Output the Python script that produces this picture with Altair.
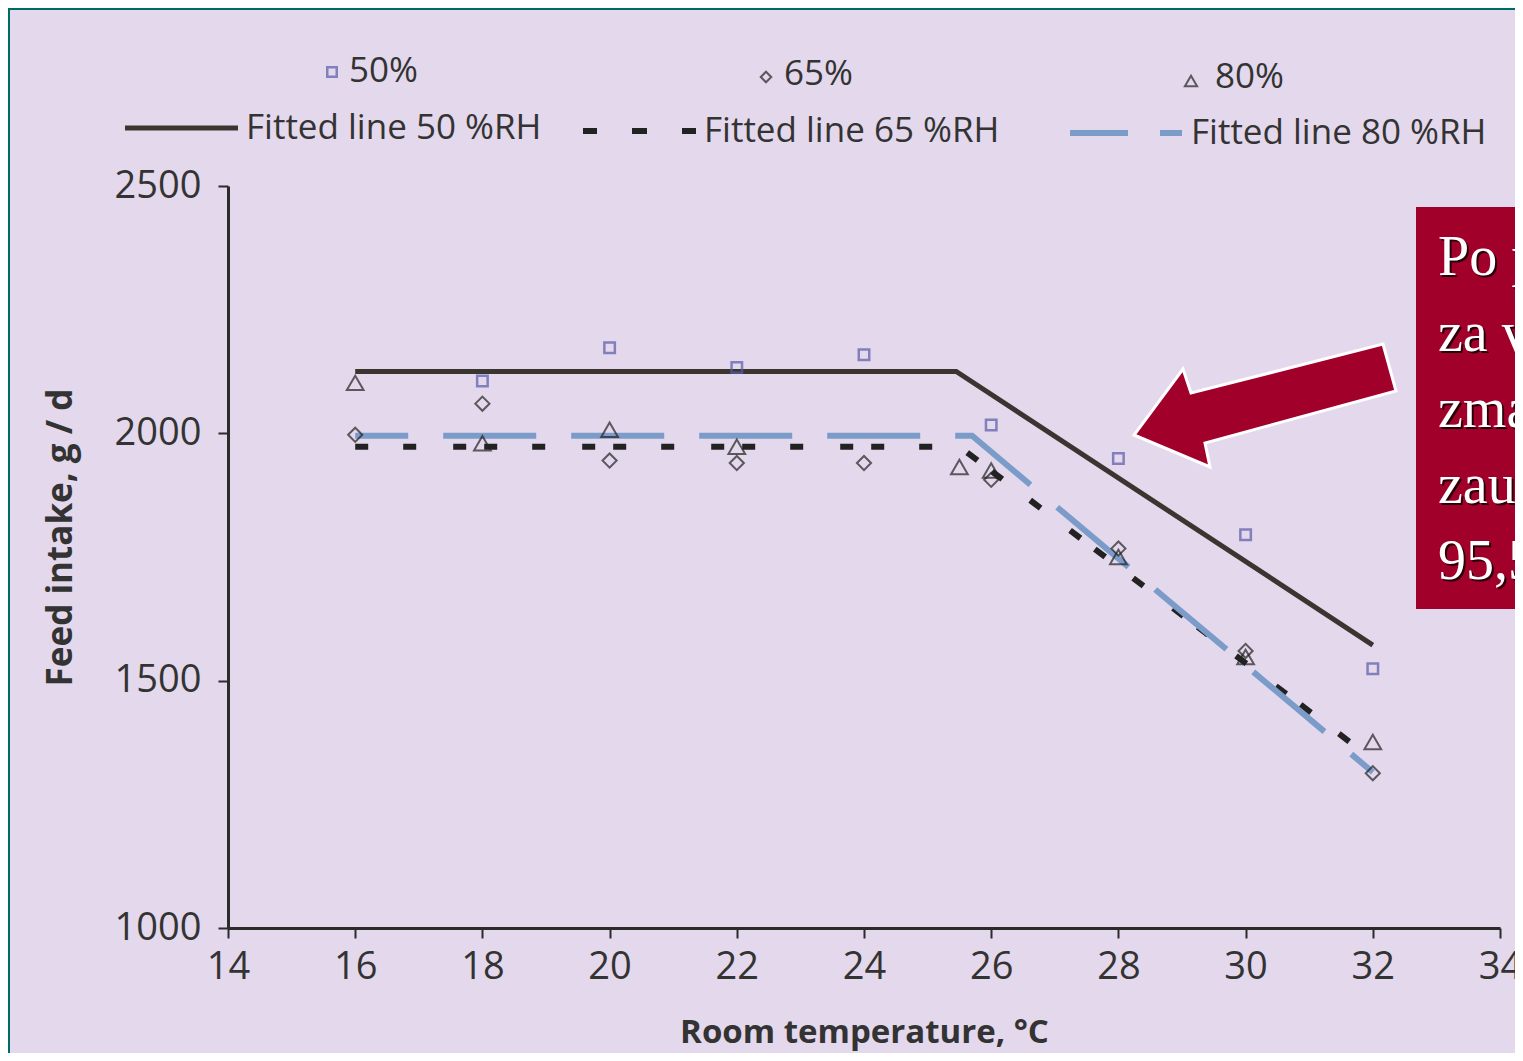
import altair as alt
import pandas as pd

# ---------------- data ----------------
temp_50 = [18, 20, 22, 24, 26, 28, 30, 32]
intake_50 = [2106, 2173, 2133, 2159, 2017, 1949, 1795, 1524]

temp_65 = [16, 18, 20, 22, 24, 26, 28, 30, 32]
intake_65 = [1997, 2060, 1945, 1940, 1940, 1906, 1767, 1560, 1313]

temp_80 = [16, 18, 20, 22, 25.5, 26, 28, 30, 32]
intake_80 = [2102, 1980, 2007, 1973, 1932, 1925, 1750, 1548, 1376]

fit_t_50 = [16, 25.45, 32]
fit_v_50 = [2125, 2125, 1572]
fit_t_65 = [16, 25.5, 32]
fit_v_65 = [1973, 1973, 1341]
fit_t_80 = [16, 25.7, 32]
fit_v_80 = [1995, 1995, 1315]

x_ticks = [14, 16, 18, 20, 22, 24, 26, 28, 30, 32, 34]
y_ticks = [1000, 1500, 2000, 2500]

note_lines = ["Po prehodu", "za vsako", "zmanjšanje", "zauživanja", "95,5 g"]

# ---------------- layout constants ----------------
W, H = 1272, 742
PAD_L, PAD_T, PAD_R, PAD_B = 220, 178, 15, 125
OX, OY = 8 + PAD_L, 8 + PAD_T   # page position of plot origin

BG = "#e4d8ec"
TEAL = "#006b64"
RED = "#a1002a"
INK = "#333333"
BLUE = "#7b9cc8"
SQ = "#5a5ca8"
SANS = "Open Sans"
SERIF = "Liberation Serif"

dummy = pd.DataFrame({"d": [0]})


def px(v):
    return v - OX


def py(v):
    return v - OY


xs = alt.Scale(domain=[14, 34], nice=False, zero=False)
ys = alt.Scale(domain=[1000, 2500], nice=False, zero=False)

x_axis = alt.Axis(values=x_ticks, title="Room temperature, °C", grid=False,
                  labelFontSize=38, labelFont=SANS, labelColor=INK, labelFlush=False,
                  titleFont=SANS, titleFontSize=33, titleFontWeight="bold",
                  titleColor=INK, titlePadding=30, tickSize=10, tickWidth=2,
                  tickColor="#2b2b2b", domainColor="#2b2b2b", domainWidth=3,
                  labelPadding=10, format="d")
y_axis = alt.Axis(values=y_ticks, title="Feed intake, g / d", grid=False,
                  labelFontSize=38, labelFont=SANS, labelColor=INK, labelFlush=False,
                  titleFont=SANS, titleFontSize=35, titleFontWeight="bold",
                  titleColor=INK, titlePadding=36, titleY=351, tickSize=10, tickWidth=2,
                  tickColor="#2b2b2b", domainColor="#2b2b2b", domainWidth=3,
                  labelPadding=17, format="d")

X = alt.X("t:Q", scale=xs, axis=x_axis)
Y = alt.Y("v:Q", scale=ys, axis=y_axis)


def fit_layer(ts, vs, **kw):
    df = pd.DataFrame({"t": ts, "v": vs})
    return alt.Chart(df).mark_line(**kw).encode(x=X, y=Y)


def pts_layer(ts, vs, **kw):
    df = pd.DataFrame({"t": ts, "v": vs})
    return alt.Chart(df).mark_point(filled=False, **kw).encode(x=X, y=Y)


def text(t, x, y, size, color=INK, font=SANS, weight="normal", align="left"):
    return alt.Chart(dummy).mark_text(
        text=t, fontSize=size, font=font, fontWeight=weight, color=color,
        align=align, baseline="middle").encode(x=alt.value(px(x)), y=alt.value(py(y)))


def hrule(x1, x2, y, color, width, dash=None):
    kw = dict(color=color, strokeWidth=width)
    if dash:
        kw["strokeDash"] = dash
    return alt.Chart(dummy).mark_rule(**kw).encode(
        x=alt.value(px(x1)), x2=alt.value(px(x2)), y=alt.value(py(y)))


def rect(x1, x2, y1, y2, color):
    return alt.Chart(dummy).mark_rect(color=color).encode(
        x=alt.value(px(x1)), x2=alt.value(px(x2)),
        y=alt.value(py(y1)), y2=alt.value(py(y2)))


def symbol(x, y, shape, size, color, sw=2):
    return alt.Chart(dummy).mark_point(shape=shape, filled=False, color=color,
                                       strokeWidth=sw, size=size).encode(
        x=alt.value(px(x)), y=alt.value(py(y)))


layers = []

# frame strips (teal border of the slide)
layers.append(rect(8, 10, 8, 1061, TEAL))
layers.append(rect(8, 1515, 8, 10, TEAL))

# fitted lines
layers.append(fit_layer(fit_t_65, fit_v_65, color="#222222", strokeWidth=6,
                        strokeDash=[13, 35, 13, 37, 13, 18]))
layers.append(fit_layer(fit_t_80, fit_v_80, color=BLUE, strokeWidth=6,
                        strokeDash=[93, 35], strokeDashOffset=40))
layers.append(fit_layer(fit_t_50, fit_v_50, color="#3a3530", strokeWidth=5))

# observed points
layers.append(pts_layer(temp_50, intake_50, shape="square", size=110, color=SQ, strokeWidth=2.5))
layers.append(pts_layer(temp_65, intake_65, shape="diamond", size=200, color="#222222", strokeWidth=2))
layers.append(pts_layer(temp_80, intake_80, shape="triangle-up", size=280, color="#222222", strokeWidth=2))

# legend row 1
layers.append(symbol(332, 72, "square", 90, SQ, 2.5))
layers.append(text("50%", 349, 71, 35))
layers.append(symbol(766, 77, "diamond", 110, "#222222", 2))
layers.append(text("65%", 784, 74, 35))
layers.append(symbol(1191, 81, "triangle-up", 150, "#222222", 2))
layers.append(text("80%", 1215, 77, 35))

# legend row 2
layers.append(hrule(125, 238, 128, "#3a3530", 5))
layers.append(text("Fitted line 50 %RH", 246, 128, 35))
layers.append(hrule(583, 597, 131, "#222222", 6))
layers.append(hrule(632, 647, 131, "#222222", 6))
layers.append(hrule(682, 696, 131, "#222222", 6))
layers.append(text("Fitted line 65 %RH", 704, 131, 35))
layers.append(hrule(1070, 1128, 133, BLUE, 6))
layers.append(hrule(1160, 1182, 133, BLUE, 6))
layers.append(text("Fitted line 80 %RH", 1191, 133, 35))

# red call-out box
layers.append(rect(1416, 1530, 207, 609, RED))
for i, line in enumerate(note_lines):
    yy = 258 + i * 76
    layers.append(text(line, 1440, yy + 2, 56, color="#2a0008", font=SERIF))
    layers.append(text(line, 1438, yy, 56, color="white", font=SERIF))

# arrow (polygon in pixel units, size=4 -> scale 1)
arrow_path = "M118,-61 L131,-14 L-60,38 L-55,62 L-131,30 L-82,-36 L-74,-12 Z"
layers.append(alt.Chart(dummy).mark_point(shape=arrow_path, filled=True, fill=RED,
                                          fillOpacity=1, stroke="white", strokeWidth=3,
                                          opacity=1, size=4).encode(
    x=alt.value(px(1265)), y=alt.value(py(405))))

chart = alt.layer(*layers).properties(
    width=W, height=H, background=BG,
    autosize=alt.AutoSizeParams(type="none"),
    padding={"left": PAD_L, "top": PAD_T, "right": PAD_R, "bottom": PAD_B},
).configure_view(stroke=None)

chart.save("out.html", embed_options={"renderer": "svg", "actions": False})
